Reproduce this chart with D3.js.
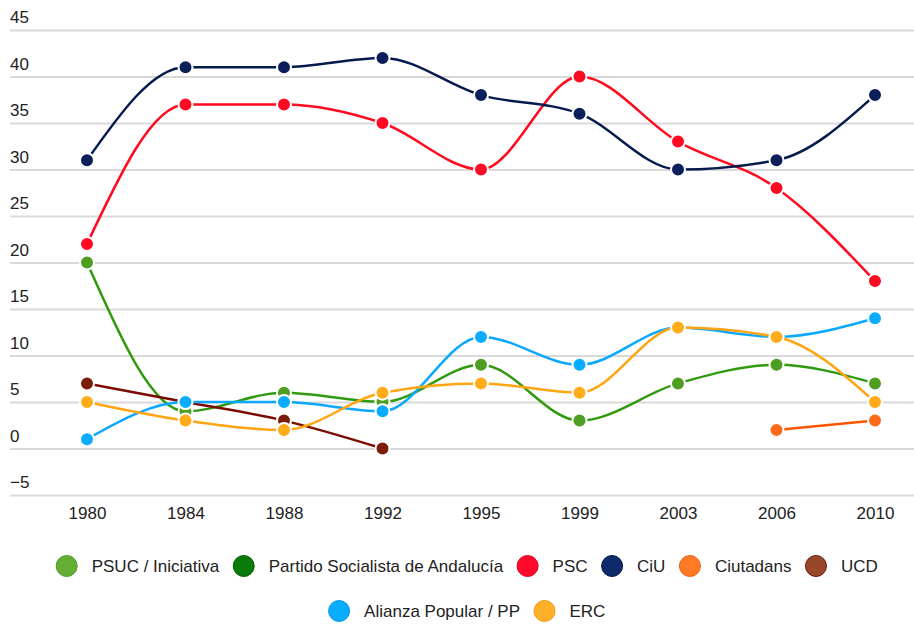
<!DOCTYPE html>
<html>
<head>
<meta charset="utf-8">
<script src="https://cdn.jsdelivr.net/npm/d3@7"></script>
<style>
  body { margin: 0; background: #fff; }
  text { font-family: "Liberation Sans", Arial, sans-serif; }
</style>
</head>
<body>
<div id="chart"></div>
<script>
// data
const years = ["1980", "1984", "1988", "1992", "1995", "1999", "2003", "2006", "2010"];
const yTicks = [-5, 0, 5, 10, 15, 20, 25, 30, 35, 40, 45];

const psuc      = [20, 4, 6, 5, 9, 3, 7, 9, 7];
const psa       = [null, null, null, null, null, null, null, null, null];
const psc       = [22, 37, 37, 35, 30, 40, 33, 28, 18];
const ciu       = [31, 41, 41, 42, 38, 36, 30, 31, 38];
const ciutadans = [null, null, null, null, null, null, null, 2, 3];
const ucd       = [7, 5, 3, 0, null, null, null, null, null];
const alianza   = [1, 5, 5, 4, 12, 9, 13, 12, 14];
const erc       = [5, 3, 2, 6, 7, 6, 13, 12, 5];

const seriesNames = ["PSUC / Iniciativa", "Partido Socialista de Andalucía", "PSC", "CiU",
  "Ciutadans", "UCD", "Alianza Popular / PP", "ERC"];
const seriesValues = [psuc, psa, psc, ciu, ciutadans, ucd, alianza, erc];

// colours: line, marker, legend
const lineColors   = ["#2f9a0e", "#0b7a0b", "#ff0a1e", "#061b4d", "#ff5500", "#7a0c02", "#0aa8ff", "#ffa510"];
const markerColors = ["#4f9e22", "#0b7a0b", "#ff0a22", "#0b1f5a", "#ff6a18", "#7a1e08", "#0aacff", "#ffab1a"];
const legendColors = ["#64ae36", "#0a7a0a", "#ff0a2a", "#0c2a6c", "#ff7a24", "#98472a", "#0aacff", "#ffb02a"];
const legendStroke = ["#4f9a22", "#06600a", "#e00020", "#061a4a", "#f06010", "#6a1a0a", "#0a98e8", "#f09a10"];

const width = 914, height = 624;

const svg = d3.select("#chart").append("svg")
  .attr("width", width)
  .attr("height", height);

const x = d3.scalePoint().domain(years).range([87, 875]);
const y = d3.scaleLinear().domain([-5, 45]).range([495, 30]);

// grid + y labels
const yAxis = svg.append("g")
  .attr("transform", "translate(10,0)")
  .call(d3.axisRight(y).tickValues(yTicks).tickSize(904).tickFormat(d3.format("d")));
yAxis.select(".domain").remove();
yAxis.selectAll("line").attr("stroke", "#d9d9d9").attr("stroke-width", 2);
yAxis.selectAll("text")
  .attr("x", 0)
  .attr("dy", "-0.42em")
  .attr("text-anchor", "start")
  .attr("fill", "#222")
  .style("font-size", "17px");

// x labels
const xAxis = svg.append("g")
  .attr("transform", "translate(0,495)")
  .call(d3.axisBottom(x).tickSize(0));
xAxis.select(".domain").remove();
xAxis.selectAll("text")
  .attr("y", 12)
  .attr("dy", "0.71em")
  .attr("fill", "#222")
  .style("font-size", "17px");

const line = d3.line()
  .defined(d => d.v !== null)
  .x(d => x(d.year))
  .y(d => y(d.v))
  .curve(d3.curveMonotoneX);

seriesValues.forEach((vals, i) => {
  const pts = vals.map((v, j) => ({ year: years[j], v: v }));
  const g = svg.append("g");
  g.append("path")
    .datum(pts)
    .attr("d", line)
    .attr("fill", "none")
    .attr("stroke", lineColors[i])
    .attr("stroke-width", 2.5);
  g.selectAll("circle")
    .data(pts.filter(d => d.v !== null))
    .join("circle")
    .attr("cx", d => x(d.year))
    .attr("cy", d => y(d.v))
    .attr("r", 7)
    .attr("fill", markerColors[i])
    .attr("stroke", "#fff")
    .attr("stroke-width", 2);
});

// legend, two centred rows
const legendRows = [[0, 1, 2, 3, 4, 5], [6, 7]];
const rowY = [566, 611];
const legend = svg.append("g");
legendRows.forEach((row, r) => {
  const items = row.map(i => {
    const t = legend.append("text")
      .attr("y", rowY[r])
      .attr("dy", "0.35em")
      .attr("fill", "#222")
      .style("font-size", "17px")
      .text(seriesNames[i]);
    return { i: i, t: t, w: t.node().getComputedTextLength() };
  });
  const gap = 14, r0 = 10.5, txtOff = 25;
  const total = d3.sum(items, d => r0 + txtOff + d.w) + gap * (items.length - 1);
  let cx = 467 - total / 2;
  items.forEach(d => {
    legend.append("circle")
      .attr("cx", cx + r0)
      .attr("cy", rowY[r])
      .attr("r", r0)
      .attr("fill", legendColors[d.i])
      .attr("stroke", legendStroke[d.i])
      .attr("stroke-width", 1);
    d.t.attr("x", cx + r0 + txtOff);
    cx += r0 + txtOff + d.w + gap;
  });
});
</script>
</body>
</html>
